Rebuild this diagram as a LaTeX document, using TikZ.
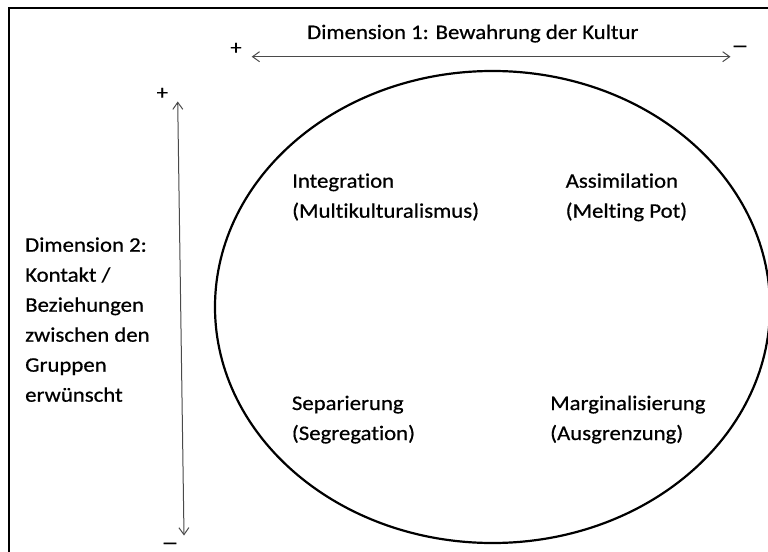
\documentclass[tikz,border=0pt]{standalone}
\usepackage{fontspec}
\setmainfont{Carlito}[FakeStretch=1.1, FakeBold=0.6, Ligatures=NoCommon]
\usetikzlibrary{arrows.meta,shapes.geometric}
\definecolor{axisgray}{HTML}{4A4A4A}
\newcommand{\wideminus}{\scalebox{1.5}[1]{−}}
\begin{document}
\begin{tikzpicture}[x=1bp,y=-1bp,
  txt/.style={inner sep=0pt, font=\fontsize{20.7bp}{30bp}\selectfont},
  lbl/.style={txt, align=left, anchor=base west},
  sign/.style={txt, anchor=base},
  axis/.style={draw=axisgray, line width=1bp, {Straight Barb[length=7bp,width=10bp]}-{Straight Barb[length=7bp,width=10bp]}},
  frame/.style={draw=black, line width=2bp},
  oval/.style={draw=black, ellipse, line width=2.2bp, inner sep=0pt,
               minimum width=555bp, minimum height=472bp}]
\useasboundingbox (0,0) rectangle (768,552);

% outer frame (top and left edges)
\draw[frame] (8.5,553) -- (8.5,7.7) -- (769,7.7);

% the acculturation oval
\node[oval] (kreis) at (492.5,307) {};

% dimension 1: horizontal axis
\coordinate (d1plus) at (251.7,56.7);
\coordinate (d1minus) at (730.5,56.7);
\draw[axis] (d1plus) -- (d1minus);
\node[sign] (p1) at (236,54.3) {+};
\node[sign] (m1) at (740,53) {\wideminus};
\node[lbl] (dim1) at (307,39) {Dimension 1: Bewahrung der Kultur};

% dimension 2: vertical axis
\coordinate (d2plus) at (177.7,101.5);
\coordinate (d2minus) at (184,535.5);
\draw[axis] (d2plus) -- (d2minus);
\node[sign] (p2) at (162.3,99.3) {+};
\node[sign] (m2) at (170,550) {\wideminus};
\node[lbl] (dim2) at (25,401.7) {Dimension 2:\\Kontakt /\\Beziehungen\\zwischen den\\Gruppen\\erwünscht};

% the four strategies (anchored on the baseline of the last line)
\node[lbl] (integ) at (292,217.7) {Integration\\(Multikulturalismus)};
\node[lbl] (assim) at (565.5,217.7) {Assimilation\\(Melting Pot)};
\node[lbl] (separ) at (291.7,440) {Separierung\\(Segregation)};
\node[lbl] (margi) at (550,440) {Marginalisierung\\(Ausgrenzung)};
\end{tikzpicture}
\end{document}
